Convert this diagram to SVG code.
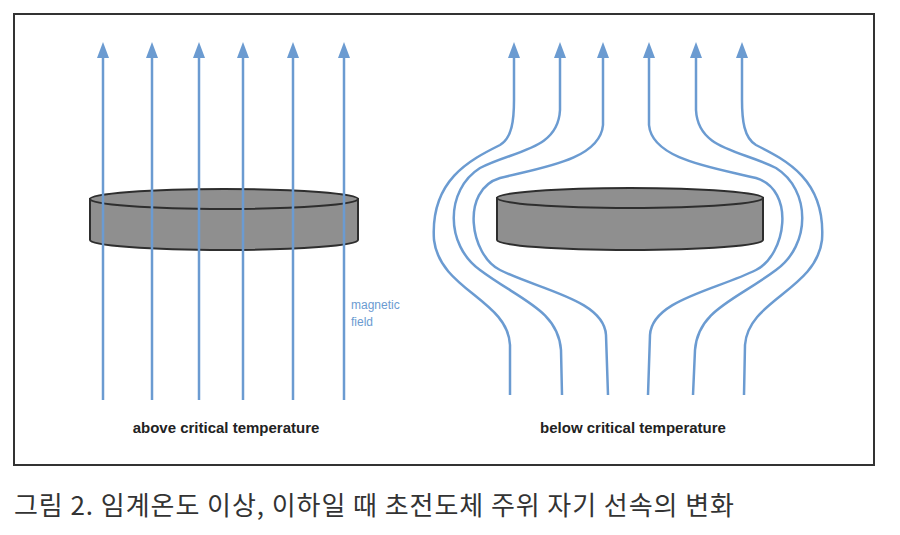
<svg xmlns="http://www.w3.org/2000/svg" width="900" height="535" viewBox="0 0 900 535">
<style>
.f{fill:none;stroke:#6b9bd1;stroke-width:2.5;marker-end:url(#ah)}
.d{fill:#8f8f8f;stroke:#2e2e2e;stroke-width:2}
.lbl{font-family:"Liberation Sans",Arial,sans-serif;font-size:15px;font-weight:bold;fill:#222;text-anchor:middle}
</style>
<defs>
<marker id="ah" markerWidth="16" markerHeight="12" refX="0" refY="6" orient="auto" markerUnits="userSpaceOnUse" viewBox="0 0 16 12">
<path d="M0,0 L16,6 L0,12 Z" fill="#6b9bd1"/>
</marker>
</defs>
<rect x="0" y="0" width="900" height="535" fill="#fff"/>
<rect x="14" y="14" width="860" height="451" fill="#fff" stroke="#333" stroke-width="2"/>
<g id="disk-left">
<path class="d" d="M90,199 L90,240 A134,10 0 0 0 358,240 L358,199 Z"/>
<ellipse class="d" cx="224" cy="199" rx="134" ry="10"/>
</g>
<g id="disk-right">
<path class="d" d="M497,198 L497,240 A133,10 0 0 0 763,240 L763,198 Z"/>
<ellipse class="d" cx="630" cy="198" rx="133" ry="10"/>
</g>
<g id="connectors">
<path class="f" d="M103,400 L103,58"/>
<path class="f" d="M152,400 L152,58"/>
<path class="f" d="M199,400 L199,58"/>
<path class="f" d="M243,400 L243,58"/>
<path class="f" d="M293,400 L293,58"/>
<path class="f" d="M344,400 L344,58"/>
<path class="f" d="M510,395 L510,345 C508,300 440,290 434,240 C430,180 470,160 500,145 C512,138 514,120 514,100 L514,58"/>
<path class="f" d="M562,395 L561,350 C558,310 520,300 480,270 C445,245 445,190 480,168 C515,150 558,150 560,110 L560,58"/>
<path class="f" d="M608,395 L606,335 C604,300 540,290 500,270 C470,255 460,190 500,178 C540,168 600,160 603,125 L603,58"/>
<path class="f" d="M648,395 L650,335 C652,300 716,290 756,270 C786,255 796,190 756,178 C716,168 652,160 649,125 L649,58"/>
<path class="f" d="M693,395 L695,350 C698,310 736,300 776,270 C811,245 811,190 776,168 C741,150 698,150 696,110 L696,58"/>
<path class="f" d="M744,395 L745,345 C748,300 816,290 822,240 C826,180 786,160 756,145 C744,138 742,120 742,100 L742,58"/>
</g>
<g id="labels">
<text x="351" y="309" font-family="Liberation Sans,Arial,sans-serif" font-size="12" fill="#6b9bd1">magnetic</text>
<text x="351" y="326" font-family="Liberation Sans,Arial,sans-serif" font-size="12" fill="#6b9bd1">field</text>
<text class="lbl" x="226" y="433">above critical temperature</text>
<text class="lbl" x="633" y="433">below critical temperature</text>
<text x="14" y="515" font-family="Noto Sans CJK KR,sans-serif" font-size="26" fill="#333" textLength="720">그림 2. 임계온도 이상, 이하일 때 초전도체 주위 자기 선속의 변화</text>
</g>
</svg>
